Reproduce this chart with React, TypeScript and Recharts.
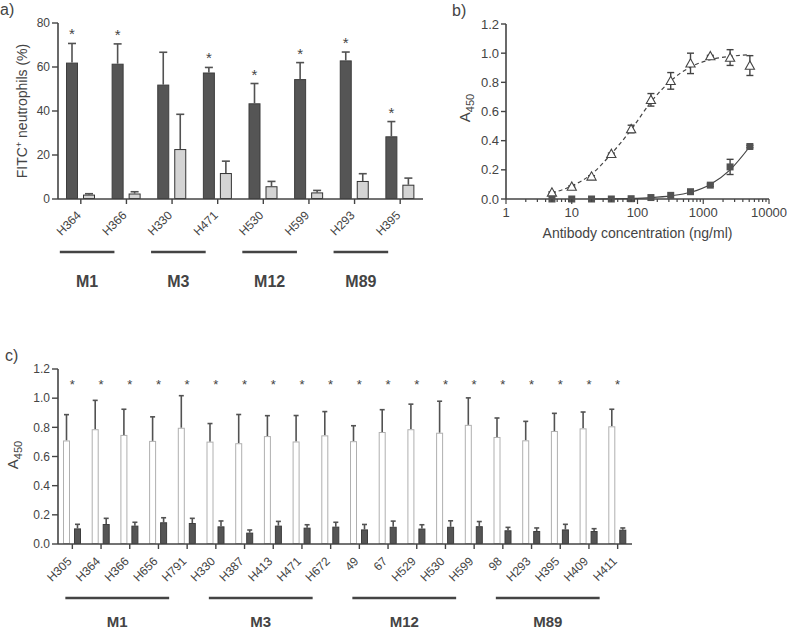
import React from 'react';
import { ComposedChart, Bar, Line, Scatter, XAxis, YAxis, ErrorBar } from 'recharts';

const FONT = '"Liberation Sans", Arial, sans-serif';
const INK = '#444444';
const DARK = '#525252';

// a) FITC+ neutrophils (%)
const aClones = ['H364', 'H366', 'H330', 'H471', 'H530', 'H599', 'H293', 'H395'];
const aImmune = [62, 61.5, 52, 57.5, 43.5, 54.5, 63, 28.5];
const aImmuneErr = [8.7, 9, 14.7, 2.3, 9, 7.5, 3.8, 6.7];
const aControl = [2, 2.5, 22.7, 11.8, 5.8, 3, 8.2, 6.5];
const aControlErr = [0.4, 0.8, 15.8, 5.4, 2.2, 0.9, 3.3, 3];
const aSignif = [true, true, false, true, true, true, true, true];
const aTicks = [0, 20, 40, 60, 80];
const aGroupNames = ['M1', 'M3', 'M12', 'M89'];
const aGroupFrom = [0, 2, 4, 6];
const aGroupTo = [1, 3, 5, 7];

// b) A450 vs antibody concentration
const bConc = [5, 10, 20, 40, 80, 160, 320, 640, 1280, 2560, 5120];
const bTri = [0.045, 0.085, 0.155, 0.31, 0.48, 0.68, 0.81, 0.93, 0.98, 0.97, 0.915];
const bTriErr = [0.005, 0.005, 0.005, 0.005, 0.026, 0.043, 0.057, 0.07, 0.005, 0.054, 0.068];
const bTriFit = [0.04, 0.09, 0.17, 0.31, 0.475, 0.665, 0.81, 0.905, 0.955, 0.978, 0.99];
const bSq = [0, 0, 0, 0, 0.002, 0.01, 0.025, 0.05, 0.095, 0.22, 0.36];
const bSqErr = [0, 0, 0, 0, 0, 0, 0, 0.005, 0.008, 0.052, 0.008];
const bSqFit = [null, null, 0, 0.001, 0.004, 0.01, 0.022, 0.046, 0.1, 0.2, 0.36];
const bYTicks = [0, 0.2, 0.4, 0.6, 0.8, 1.0, 1.2];
const bMajor = [1, 10, 100, 1000, 10000];
const bXTicks = [
  1, 2, 3, 4, 5, 6, 7, 8, 9,
  10, 20, 30, 40, 50, 60, 70, 80, 90,
  100, 200, 300, 400, 500, 600, 700, 800, 900,
  1000, 2000, 3000, 4000, 5000, 6000, 7000, 8000, 9000,
  10000,
];

// c) A450 per clone
const cClones = ['H305', 'H364', 'H366', 'H656', 'H791', 'H330', 'H387', 'H413', 'H471', 'H672',
  '49', '67', 'H529', 'H530', 'H599', '98', 'H293', 'H395', 'H409', 'H411'];
const cImmune = [0.71, 0.787, 0.748, 0.707, 0.797, 0.702, 0.691, 0.74, 0.703, 0.745,
  0.705, 0.768, 0.787, 0.763, 0.817, 0.734, 0.711, 0.775, 0.793, 0.807];
const cImmuneErr = [0.177, 0.198, 0.176, 0.165, 0.22, 0.124, 0.197, 0.14, 0.178, 0.163,
  0.106, 0.153, 0.172, 0.216, 0.185, 0.13, 0.13, 0.121, 0.112, 0.117];
const cControl = [0.107, 0.137, 0.126, 0.149, 0.144, 0.121, 0.078, 0.126, 0.112, 0.119,
  0.1, 0.118, 0.106, 0.118, 0.122, 0.094, 0.089, 0.1, 0.089, 0.098];
const cControlErr = [0.028, 0.039, 0.023, 0.031, 0.032, 0.037, 0.018, 0.029, 0.02, 0.03,
  0.034, 0.039, 0.026, 0.041, 0.032, 0.02, 0.021, 0.035, 0.016, 0.012];
const cStarLevel = [1.11, 1.11, 1.11, 1.11, 1.11, 1.11, 1.11, 1.11, 1.11, 1.11,
  1.11, 1.11, 1.11, 1.11, 1.11, 1.11, 1.11, 1.11, 1.11, 1.11];
const cYTicks = [0, 0.2, 0.4, 0.6, 0.8, 1.0, 1.2];
const cGroupNames = ['M1', 'M3', 'M12', 'M89'];
const cGroupFrom = [0, 5, 10, 15];
const cGroupTo = [4, 9, 14, 19];

const aRows = aClones.map((name, i) => ({
  name, immune: aImmune[i], immuneErr: aImmuneErr[i],
  control: aControl[i], controlErr: aControlErr[i], signif: aSignif[i],
}));
const bRows = bConc.map((conc, i) => ({
  conc, tri: bTri[i], triErr: bTriErr[i], triFit: bTriFit[i],
  sq: bSq[i], sqErr: bSqErr[i], sqFit: bSqFit[i],
}));
const cRows = cClones.map((name, i) => ({
  name, immune: cImmune[i], immuneErr: cImmuneErr[i],
  control: cControl[i], controlErr: cControlErr[i], star: cStarLevel[i],
}));

// bar with a one-sided (upward) error whisker, optional significance star
function whiskerBar(valueKey: string, errKey: string, fill: string, stroke: string, cap: number, star?: number) {
  return (p: any) => {
    const { x, y, width, height, payload } = p;
    const v = payload[valueKey];
    const unit = v > 0 ? height / v : 0;
    const top = y - payload[errKey] * unit;
    const cx = x + width / 2;
    return (
      <g>
        <line x1={cx} x2={cx} y1={y} y2={top} stroke={DARK} strokeWidth={1.6} />
        <line x1={cx - cap} x2={cx + cap} y1={top} y2={top} stroke={DARK} strokeWidth={1.6} />
        <rect x={x + 0.5} y={y + 0.5} width={width - 1} height={Math.max(height - 1, 0)}
          fill={fill} stroke={stroke} strokeWidth={1} />
        {star && payload.signif ? (
          <text x={cx} y={top - 4} textAnchor="middle" fontSize={star} fill={INK} fontFamily={FONT}>*</text>
        ) : null}
      </g>
    );
  };
}

const cloneTick = (dx: number, dy: number) => (p: any) => (
  <text transform={`translate(${p.x + dx},${p.y + dy}) rotate(-45)`} textAnchor="end"
    fontSize={12} fill={INK} fontFamily={FONT}>{p.payload.value}</text>
);

const logTick = (p: any) => {
  const v = p.payload.value;
  const major = bMajor.includes(v);
  return (
    <g>
      <line x1={p.x} x2={p.x} y1={p.y} y2={p.y + (major ? 5 : 3)} stroke={INK} strokeWidth={1.2} />
      {major ? (
        <text x={p.x} y={p.y + 18} textAnchor="middle" fontSize={13} fill={INK} fontFamily={FONT}>{v}</text>
      ) : null}
    </g>
  );
};

const triangle = (p: any) => {
  const s = 4.6;
  return (
    <polygon points={`${p.cx},${p.cy - s} ${p.cx - s},${p.cy + s * 0.8} ${p.cx + s},${p.cy + s * 0.8}`}
      fill="#fff" stroke={INK} strokeWidth={1.1} />
  );
};
const square = (p: any) => (
  <rect x={p.cx - 3.5} y={p.cy - 3.5} width={7} height={7} fill={DARK} />
);

const starShape = (p: any) => (
  <text x={p.cx} y={p.cy + 7} textAnchor="middle" fontSize={13} fill={INK} fontFamily={FONT}>*</text>
);

const axisLine = { stroke: INK, strokeWidth: 1.6 };
const tickStyle = { fill: INK, fontSize: 12, fontFamily: FONT };
const visible = { overflow: 'visible' as const };

export default function App() {
  // layout of the category bands, used to place the group brackets under the axes
  const aLeft = 58, aBand = 365 / aClones.length;
  const aCenter = (i: number) => aLeft + aBand * (i + 0.5);
  const cLeft = 58, cBand = 574 / cClones.length;
  const cCenter = (i: number) => cLeft + cBand * (i + 0.5);

  return (
    <div style={{ position: 'absolute', left: 0, top: 0, width: 787, height: 632, background: '#fff', fontFamily: FONT }}>
      <div style={{ position: 'absolute', left: 0, top: 0 }}>
        <ComposedChart width={430} height={245} data={aRows} margin={{ top: 23, right: 7, bottom: 0, left: 0 }}
          barSize={12} barGap={5} style={visible}>
          <XAxis dataKey="name" height={46} interval={0} tickSize={5} tickLine={{ stroke: INK, strokeWidth: 1.4 }}
            axisLine={axisLine} tick={cloneTick(1, 10)} />
          <YAxis domain={[0, 80]} ticks={aTicks} width={58} tickSize={6} tickMargin={2}
            tickLine={{ stroke: INK, strokeWidth: 1.4 }} axisLine={axisLine} tick={tickStyle} />
          <Bar dataKey="immune" isAnimationActive={false}
            shape={whiskerBar('immune', 'immuneErr', '#555555', '#3d3d3d', 4, 15)} />
          <Bar dataKey="control" isAnimationActive={false}
            shape={whiskerBar('control', 'controlErr', '#d4d4d4', '#333333', 4)} />
        </ComposedChart>
      </div>

      <div style={{ position: 'absolute', left: 420, top: 0 }}>
        <ComposedChart width={367} height={250} data={bRows} margin={{ top: 24, right: 18, bottom: 0, left: 0 }}
          style={visible}>
          <XAxis dataKey="conc" type="number" scale="log" domain={[1, 10000]} allowDataOverflow
            ticks={bXTicks} interval={0} height={51} tickSize={0} tickMargin={0} tickLine={false}
            axisLine={axisLine} tick={logTick}
            label={{ value: 'Antibody concentration (ng/ml)', position: 'insideBottom', offset: 12, fill: INK, fontSize: 14, fontFamily: FONT }} />
          <YAxis domain={[0, 1.2]} ticks={bYTicks} width={86} tickSize={5} tickMargin={2}
            tickFormatter={(v: number) => v.toFixed(1)}
            tickLine={{ stroke: INK, strokeWidth: 1.4 }} axisLine={axisLine}
            tick={{ ...tickStyle, fontSize: 13 }} />
          <Line dataKey="triFit" type="monotone" stroke={INK} strokeWidth={1.2} strokeDasharray="4 3"
            dot={false} isAnimationActive={false} />
          <Line dataKey="sqFit" type="monotone" stroke={INK} strokeWidth={1.2}
            dot={false} isAnimationActive={false} connectNulls={false} />
          <Scatter dataKey="tri" shape={triangle} isAnimationActive={false}>
            <ErrorBar dataKey="triErr" direction="y" width={3.5} stroke={INK} strokeWidth={1.4} />
          </Scatter>
          <Scatter dataKey="sq" shape={square} isAnimationActive={false}>
            <ErrorBar dataKey="sqErr" direction="y" width={3.5} stroke={INK} strokeWidth={1.4} />
          </Scatter>
        </ComposedChart>
      </div>

      <div style={{ position: 'absolute', left: 0, top: 340 }}>
        <ComposedChart width={650} height={262} data={cRows} margin={{ top: 29, right: 18, bottom: 0, left: 0 }}
          barSize={7} barGap={4} style={visible}>
          <XAxis dataKey="name" height={58} interval={0} tickSize={5} tickLine={{ stroke: INK, strokeWidth: 1.4 }}
            axisLine={axisLine} tick={cloneTick(0, 11)} />
          <YAxis domain={[0, 1.2]} ticks={cYTicks} width={58} tickSize={6} tickMargin={2}
            tickFormatter={(v: number) => v.toFixed(1)}
            tickLine={{ stroke: INK, strokeWidth: 1.4 }} axisLine={axisLine} tick={tickStyle} />
          <Bar dataKey="immune" isAnimationActive={false}
            shape={whiskerBar('immune', 'immuneErr', '#ffffff', '#b0b0b0', 2.5)} />
          <Bar dataKey="control" isAnimationActive={false}
            shape={whiskerBar('control', 'controlErr', '#555555', '#3d3d3d', 2.5)} />
          <Scatter dataKey="star" shape={starShape} isAnimationActive={false} />
        </ComposedChart>
      </div>

      <svg width={787} height={632} style={{ position: 'absolute', left: 0, top: 0, pointerEvents: 'none' }}
        fontFamily={FONT} fill={INK}>
        <text x={0} y={15} fontSize={16}>a)</text>
        <text x={452} y={16} fontSize={16}>b)</text>
        <text x={5} y={361} fontSize={16}>c)</text>

        <text transform="translate(27,111) rotate(-90)" textAnchor="middle" fontSize={14}>
          FITC<tspan dy={-5} fontSize={9}>+</tspan><tspan dy={5}> neutrophils (%)</tspan>
        </text>
        <text transform="translate(470,108) rotate(-90)" textAnchor="middle" fontSize={15}>
          A<tspan dy={4} fontSize={11}>450</tspan>
        </text>
        <text transform="translate(18,455) rotate(-90)" textAnchor="middle" fontSize={15}>
          A<tspan dy={4} fontSize={11}>450</tspan>
        </text>

        {aGroupNames.map((g, i) => {
          const x1 = aCenter(aGroupFrom[i]) - 21;
          const x2 = aCenter(aGroupTo[i]) - 12;
          return (
            <g key={g}>
              <line x1={x1} x2={x2} y1={252} y2={252} stroke={INK} strokeWidth={2.5} />
              <text x={(x1 + x2) / 2} y={287} textAnchor="middle" fontSize={16} fontWeight="bold">{g}</text>
            </g>
          );
        })}
        {cGroupNames.map((g, i) => {
          const x1 = cCenter(cGroupFrom[i]) - 7;
          const x2 = cCenter(cGroupTo[i]) - 18;
          return (
            <g key={g}>
              <line x1={x1} x2={x2} y1={598} y2={598} stroke={INK} strokeWidth={2.5} />
              <text x={(x1 + x2) / 2} y={627} textAnchor="middle" fontSize={15} fontWeight="bold">{g}</text>
            </g>
          );
        })}
      </svg>
    </div>
  );
}
